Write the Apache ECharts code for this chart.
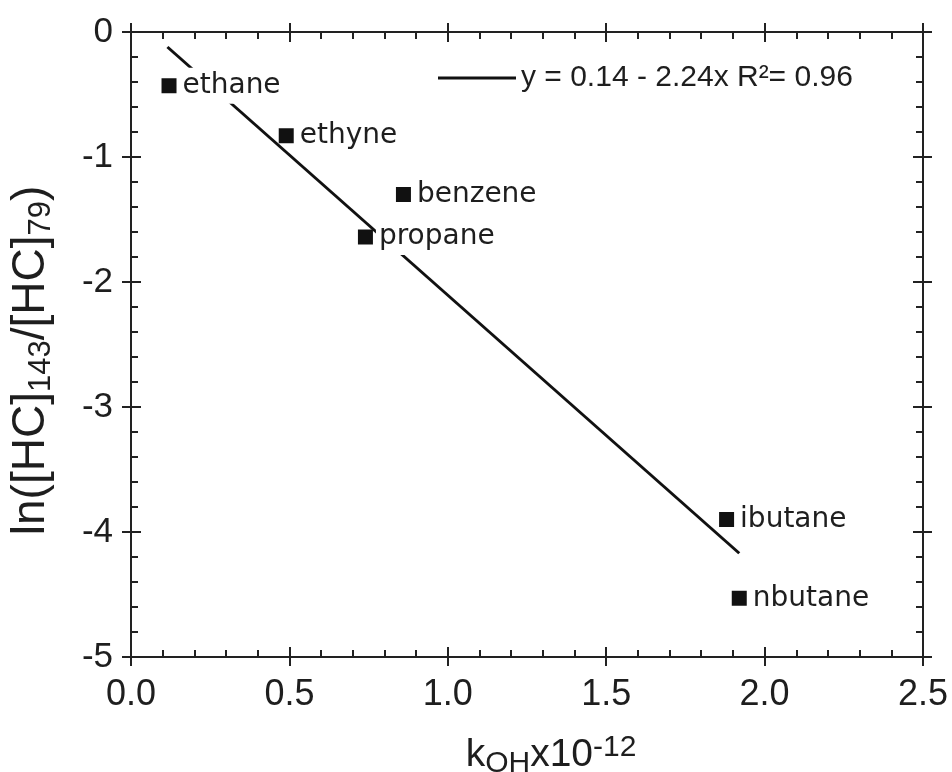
<!DOCTYPE html>
<html>
<head>
<meta charset="utf-8">
<script src="https://cdn.jsdelivr.net/npm/echarts@6/dist/echarts.min.js"></script>
<style>
  html, body { margin: 0; padding: 0; background: #fff; }
  #main { width: 952px; height: 772px; }
</style>
</head>
<body>
<div id="main"></div>
<script>
// compounds and their points (kOH x1e-12, ln ratio)
var compounds = ['ethane', 'ethyne', 'benzene', 'propane', 'ibutane', 'nbutane'];
var kOH = [0.12, 0.49, 0.86, 0.74, 1.88, 1.92];
var lnRatio = [-0.43, -0.83, -1.30, -1.64, -3.90, -4.53];
// fitted line end points
var fitX = [0.115, 1.92];
var fitY = [-0.12, -4.17];
var fitName = 'y = 0.14 - 2.24x R\u00b2= 0.96';

var axisCol = '#222';
var txtCol = '#1e1e1e';

var pts = [];
for (var i = 0; i < compounds.length; i++) {
  pts.push({ name: compounds[i], value: [kOH[i], lnRatio[i]] });
}
var fit = [];
for (var j = 0; j < fitX.length; j++) fit.push([fitX[j], fitY[j]]);

function xAx(pos, inside, extra) {
  var a = {
    type: 'value', min: 0, max: 2.5, interval: 0.5, position: pos,
    axisLine: { show: true, onZero: false, lineStyle: { color: axisCol, width: 2 } },
    axisTick: { show: true, inside: inside, length: inside ? 10 : 9, lineStyle: { color: axisCol, width: 2 } },
    minorTick: { show: inside, splitNumber: 5, length: 7, lineStyle: { color: axisCol, width: 2 } },
    axisLabel: { show: false },
    splitLine: { show: false }
  };
  return Object.assign(a, extra || {});
}
function yAx(pos, inside, extra) {
  var a = {
    type: 'value', min: -5, max: 0, interval: 1, position: pos,
    axisLine: { show: true, onZero: false, lineStyle: { color: axisCol, width: 2 } },
    axisTick: { show: true, inside: inside, length: inside ? 10 : 9, lineStyle: { color: axisCol, width: 2 } },
    minorTick: { show: inside, splitNumber: 5, length: 7, lineStyle: { color: axisCol, width: 2 } },
    axisLabel: { show: false },
    splitLine: { show: false }
  };
  return Object.assign(a, extra || {});
}

var chart = echarts.init(document.getElementById('main'));
var option = {
  animation: false,
  backgroundColor: '#fff',
  grid: { left: 131, right: 29, top: 32, bottom: 115, outerBoundsMode: 'none', containLabel: false },
  legend: {
    data: [fitName],
    left: 433, top: 58,
    icon: 'rect',
    itemWidth: 78, itemHeight: 3,
    itemGap: 4,
    textStyle: { fontFamily: 'Liberation Sans', fontSize: 30, color: txtCol, padding: [0, 0, 0, 0] }
  },
  xAxis: [
    xAx('bottom', false, {
      axisLabel: { show: true, fontFamily: 'Liberation Sans', fontSize: 36, color: txtCol, margin: 20,
        formatter: function (v) { return v.toFixed(1); } },
      name: '{a|k}{s|OH}{a|x10}{p|-12}',
      nameLocation: 'middle', nameGap: 74,
      nameTextStyle: {
        padding: [0, 0, 0, 48],
        rich: {
          a: { fontFamily: 'Liberation Sans', fontSize: 39, color: txtCol },
          s: { fontFamily: 'Liberation Sans', fontSize: 30, color: txtCol, padding: [18, 0, 0, 0] },
          p: { fontFamily: 'Liberation Sans', fontSize: 30, color: txtCol, padding: [0, 0, 14, 0] }
        }
      }
    }),
    xAx('bottom', true),
    xAx('top', false),
    xAx('top', true)
  ],
  yAxis: [
    yAx('left', false, {
      axisLabel: { show: true, fontFamily: 'Liberation Sans', fontSize: 35, color: txtCol, margin: 18 },
      name: '{a|ln([HC]}{s|143}{a|/[HC]}{s|79}{a|)}',
      nameLocation: 'middle', nameGap: 74, nameRotate: 90,
      nameTextStyle: {
        padding: [0, 32, 0, 0],
        rich: {
          a: { fontFamily: 'Liberation Sans', fontSize: 46, color: txtCol },
          s: { fontFamily: 'Liberation Sans', fontSize: 31, color: txtCol, padding: [20, 0, 0, 0] }
        }
      }
    }),
    yAx('left', true),
    yAx('right', false),
    yAx('right', true)
  ],
  series: [
    {
      name: fitName,
      type: 'line',
      data: fit,
      symbol: 'none',
      z: 2,
      lineStyle: { color: '#111', width: 3 },
      itemStyle: { color: '#111' }
    },
    {
      name: 'points',
      type: 'scatter',
      data: pts,
      symbol: 'rect',
      symbolSize: 15,
      z: 3,
      itemStyle: { color: '#111', opacity: 1 },
      label: {
        show: true, position: 'right', distance: 3,
        formatter: function (p) { return p.name; },
        fontFamily: 'DejaVu Sans', fontSize: 28, color: txtCol,
        backgroundColor: '#fff', padding: [4, 3, 4, 3]
      }
    }
  ]
};
chart.setOption(option);
</script>
</body>
</html>
